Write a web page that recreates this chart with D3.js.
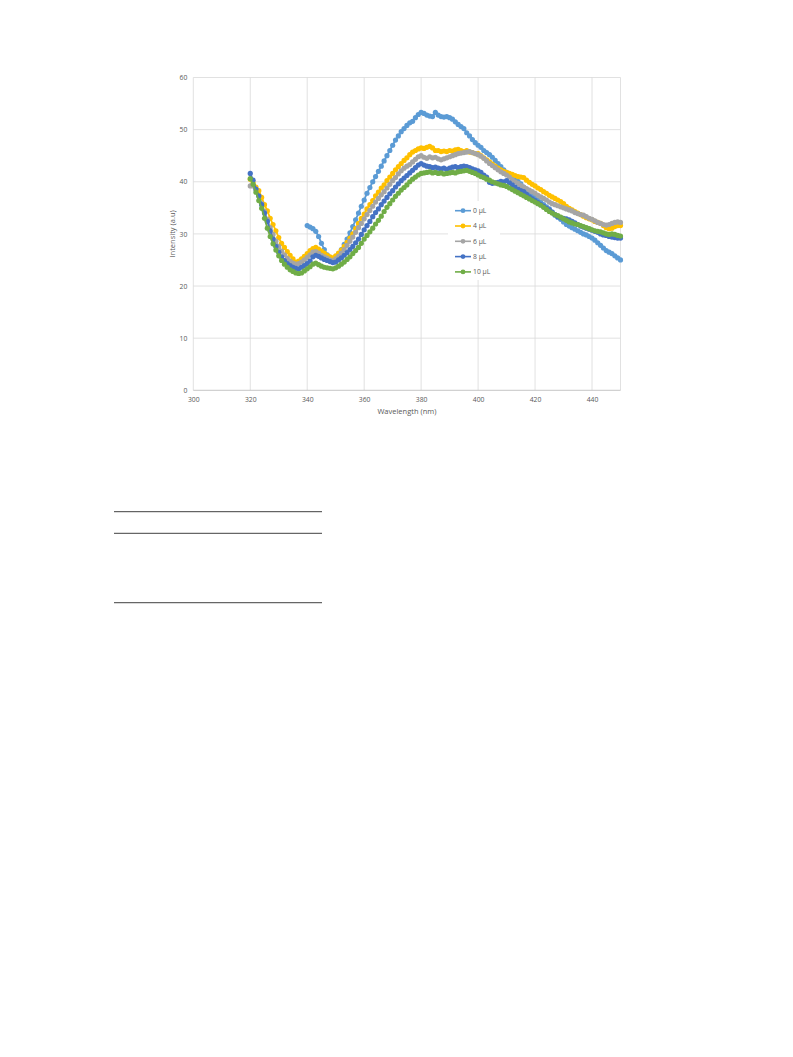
<!DOCTYPE html>
<html><head><meta charset="utf-8">
<script src="https://cdn.jsdelivr.net/npm/d3@7"></script>
<style>body{margin:0;background:#fff;} svg{display:block;}</style>
</head><body>
<svg id="c" width="793" height="1057"></svg>
<script>
const seriesNames = ["0 µL","4 µL","6 µL","8 µL","10 µL"];
const seriesColors = ["#5B9BD5","#FFC000","#A5A5A5","#4472C4","#70AD47"];
const xTicks = [300,320,340,360,380,400,420,440];
const yTicks = [0,10,20,30,40,50,60];
const wlStart0 = 340;
const wlStart = 320;
const s0 = [31.6,31.3,31.0,30.5,29.5,28.2,27.0,26.0,25.5,25.2,25.5,26.2,27.0,28.0,29.0,30.2,31.4,32.7,34.0,35.3,36.5,37.8,38.9,40.0,41.0,42.0,43.0,44.0,45.0,46.0,47.0,48.0,48.8,49.6,50.2,50.8,51.3,51.6,52.3,52.9,53.3,53.1,52.8,52.6,52.5,53.3,52.8,52.5,52.4,52.5,52.3,52.0,51.5,51.0,50.6,50.2,49.4,48.8,48.1,47.5,47.0,46.6,46.0,45.6,45.2,44.7,44.1,43.5,42.9,42.3,41.8,41.2,40.8,40.5,40.1,39.6,39.0,38.5,38.0,37.5,37.0,36.5,36.1,35.6,35.2,34.8,34.2,33.6,33.2,32.8,32.3,31.8,31.5,31.2,30.9,30.6,30.3,30.0,29.8,29.5,29.2,28.8,28.3,27.8,27.3,26.8,26.5,26.2,25.8,25.4,25.0];
const s4 = [40.5,39.8,39.0,38.3,37.0,35.6,34.4,33.0,31.8,30.6,29.3,28.2,27.4,26.6,25.9,25.2,24.6,24.8,25.2,25.7,26.2,26.8,27.2,27.4,27.1,26.7,26.3,25.9,25.6,25.4,25.8,26.3,26.9,27.6,28.4,29.2,30.0,31.0,32.0,33.0,33.8,34.8,35.6,36.4,37.3,38.0,38.8,39.4,40.2,40.9,41.6,42.3,42.9,43.5,44.1,44.6,45.2,45.7,46.0,46.3,46.5,46.4,46.6,46.8,46.5,46.0,46.0,45.8,45.9,45.8,46.0,45.9,46.1,46.2,46.0,45.8,46.0,45.7,45.6,45.4,45.4,45.0,44.6,44.2,43.8,43.4,43.0,42.6,42.3,42.0,41.8,41.6,41.4,41.2,41.0,40.9,40.8,40.3,39.9,39.5,39.2,38.8,38.5,38.1,37.8,37.4,37.1,36.8,36.5,36.2,35.8,35.3,34.9,34.6,34.3,34.0,33.7,33.4,33.1,32.9,32.7,32.4,32.2,32.0,31.6,31.2,31.0,31.1,31.4,31.6,31.6];
const s6 = [39.2,39.2,38.5,37.2,35.8,34.3,32.8,31.2,29.9,28.6,27.6,26.7,26.0,25.3,24.8,24.4,24.2,24.3,24.6,25.0,25.5,26.0,26.5,26.6,26.3,25.9,25.6,25.3,25.0,24.9,25.2,25.7,26.3,27.0,27.8,28.6,29.4,30.3,31.2,32.0,32.9,33.7,34.5,35.3,36.1,36.8,37.5,38.1,38.8,39.5,40.2,40.8,41.5,42.1,42.6,43.0,43.3,43.8,44.3,44.8,45.0,44.7,44.5,44.8,44.6,44.7,44.4,44.2,44.4,44.6,44.8,45.0,45.2,45.4,45.5,45.6,45.7,45.8,45.6,45.4,45.2,44.9,44.5,44.0,43.5,43.1,42.7,42.3,41.9,41.6,41.3,40.9,40.4,40.0,39.7,39.3,39.0,38.7,38.4,38.1,37.8,37.4,37.1,36.8,36.5,36.1,35.8,35.6,35.4,35.2,35.0,34.8,34.6,34.4,34.1,33.9,33.7,33.6,33.3,33.0,32.8,32.5,32.2,32.0,31.8,31.7,31.8,32.0,32.2,32.3,32.2];
const s8 = [41.6,40.3,38.6,37.3,35.6,34.0,32.4,30.6,29.0,27.6,26.5,25.6,24.9,24.3,23.9,23.6,23.4,23.3,23.6,23.9,24.3,24.8,25.6,25.9,25.7,25.4,25.1,24.9,24.7,24.5,24.6,25.0,25.4,25.9,26.4,27.0,27.6,28.3,29.0,29.9,30.8,31.6,32.4,33.3,34.1,34.8,35.6,36.3,37.0,37.7,38.3,39.0,39.6,40.2,40.7,41.2,41.7,42.2,42.7,43.2,43.5,43.2,43.0,42.9,42.7,42.8,42.6,42.5,42.6,42.4,42.6,42.8,42.9,42.7,42.9,43.0,42.9,42.7,42.5,42.3,42.1,41.8,41.3,40.9,39.9,39.7,39.8,39.9,40.1,40.0,40.2,39.8,39.4,39.0,38.6,38.3,38.1,37.6,37.1,36.7,36.4,36.0,35.6,35.3,34.9,34.6,34.2,33.7,33.3,33.1,33.0,32.9,32.7,32.4,32.1,31.8,31.5,31.3,31.1,30.9,30.7,30.5,30.3,30.0,29.8,29.7,29.5,29.4,29.3,29.2,29.2];
const s10 = [40.6,39.5,38.0,36.4,34.9,33.0,31.1,29.5,28.1,26.9,25.8,24.9,24.2,23.6,23.1,22.8,22.5,22.4,22.5,22.9,23.3,23.7,24.2,24.4,24.1,23.8,23.6,23.5,23.4,23.3,23.5,23.8,24.2,24.6,25.1,25.6,26.2,26.8,27.4,28.2,29.0,29.7,30.4,31.1,31.9,32.6,33.4,34.3,35.1,35.8,36.5,37.2,37.8,38.4,38.9,39.4,40.0,40.5,40.9,41.3,41.6,41.7,41.8,41.9,41.7,41.8,41.6,41.7,41.5,41.6,41.7,41.8,41.7,41.9,42.0,42.1,42.2,42.0,41.8,41.6,41.3,41.0,40.8,40.5,40.3,40.0,39.8,39.6,39.4,39.3,39.1,38.8,38.5,38.2,37.9,37.6,37.3,37.0,36.7,36.4,36.1,35.8,35.5,35.1,34.7,34.3,34.0,33.7,33.5,33.2,32.9,32.6,32.3,32.1,31.9,31.8,31.6,31.4,31.2,31.0,30.8,30.6,30.5,30.4,30.2,30.0,29.9,30.0,29.9,29.7,29.6];

const seriesData = [
  s0.map((v,i)=>({x:wlStart0+i,y:v})),
  s4.map((v,i)=>({x:wlStart+i,y:v})),
  s6.map((v,i)=>({x:wlStart+i,y:v})),
  s8.map((v,i)=>({x:wlStart+i,y:v})),
  s10.map((v,i)=>({x:wlStart+i,y:v}))
];

const svg = d3.select("#c");
const L=193.3, R=620.5, T=77.5, B=390.3;
const x = d3.scaleLinear().domain([300,450]).range([L,R]);
const y = d3.scaleLinear().domain([0,60]).range([B,T]);
const font = "'Open Sans', 'Liberation Sans', Arial, sans-serif";

// gridlines
const g = svg.append("g");
g.selectAll("line.h").data(yTicks.filter(d=>d>0)).join("line")
  .attr("x1",L).attr("x2",R).attr("y1",d=>y(d)).attr("y2",d=>y(d))
  .attr("stroke","#d9d9d9").attr("stroke-width",0.8);
g.selectAll("line.v").data(xTicks.concat([450])).join("line")
  .attr("y1",T).attr("y2",B).attr("x1",d=>x(d)).attr("x2",d=>x(d))
  .attr("stroke","#d9d9d9").attr("stroke-width",0.8);
svg.append("line").attr("x1",L).attr("x2",R).attr("y1",B).attr("y2",B)
  .attr("stroke","#bfbfbf").attr("stroke-width",0.9);

const xa = svg.append("g").attr("transform",`translate(0,${B})`)
  .call(d3.axisBottom(x).tickValues(xTicks).tickSize(0).tickPadding(7));
xa.select(".domain").remove();
xa.selectAll("text").attr("font-family",font).attr("font-size",6.8).attr("fill","#595959");
const ya = svg.append("g").attr("transform",`translate(${L},0)`)
  .call(d3.axisLeft(y).tickValues(yTicks).tickSize(0).tickPadding(6));
ya.select(".domain").remove();
ya.selectAll("text").attr("font-family",font).attr("font-size",6.8).attr("fill","#595959");

svg.append("text").attr("x",(L+R)/2).attr("y",414).attr("text-anchor","middle")
  .attr("font-family",font).attr("font-size",7.5).attr("fill","#595959").text("Wavelength (nm)");
svg.append("text").attr("transform",`translate(175,${(T+B)/2}) rotate(-90)`).attr("text-anchor","middle")
  .attr("font-family",font).attr("font-size",7.5).attr("fill","#595959").text("Intensity (a.u)");

const line = d3.line().x(d=>x(d.x)).y(d=>y(d.y));
seriesData.forEach((data,i)=>{
  const gg = svg.append("g");
  gg.append("path").datum(data).attr("d",line).attr("fill","none")
    .attr("stroke",seriesColors[i]).attr("stroke-width",1.8);
  gg.selectAll("circle").data(data).join("circle")
    .attr("cx",d=>x(d.x)).attr("cy",d=>y(d.y)).attr("r",2.6)
    .attr("fill",seriesColors[i]);
});

const lg = svg.append("g");
lg.append("rect").attr("x",448).attr("y",201).attr("width",52).attr("height",79).attr("fill","#fff");
seriesNames.forEach((n,i)=>{
  const yy = 210.7 + i*15.3;
  lg.append("line").attr("x1",455).attr("x2",471).attr("y1",yy).attr("y2",yy)
    .attr("stroke",seriesColors[i]).attr("stroke-width",1.6);
  lg.append("circle").attr("cx",463).attr("cy",yy).attr("r",2.4).attr("fill",seriesColors[i]);
  lg.append("text").attr("x",473).attr("y",yy+2.4).attr("font-family",font)
    .attr("font-size",6.8).attr("fill","#595959").text(n);
});

[511.7,533.3,602.7].forEach((yy,i)=>{
  svg.append("line").attr("x1",114).attr("x2",322).attr("y1",yy).attr("y2",yy)
    .attr("stroke", i===2 ? "#666" : "#404040").attr("stroke-width", i===2 ? 1.3 : 1);
});
</script>
</body></html>
